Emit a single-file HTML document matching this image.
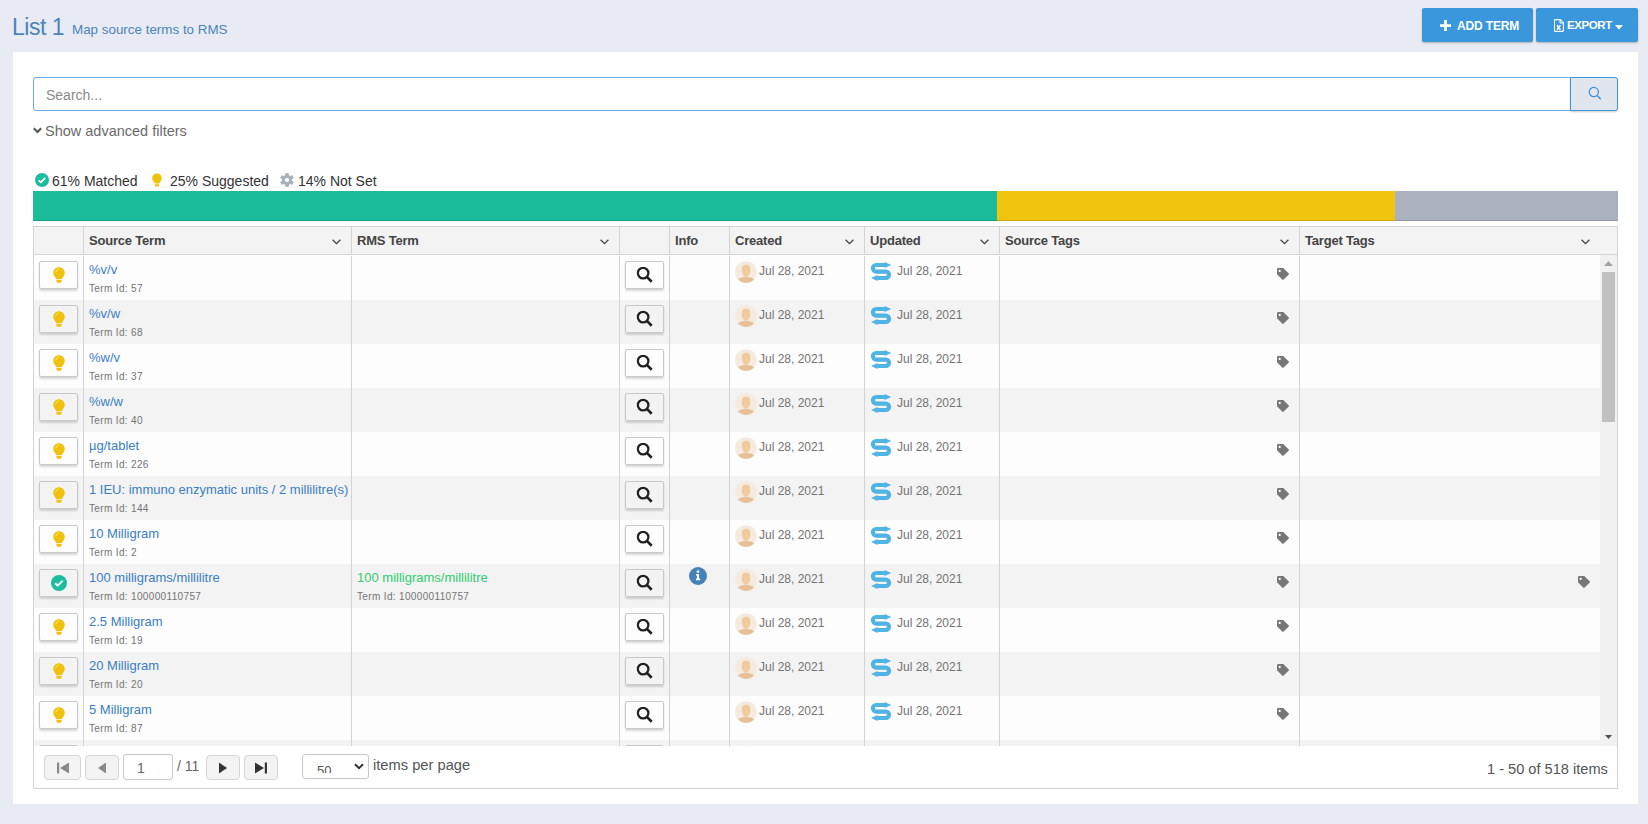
<!DOCTYPE html>
<html><head><meta charset="utf-8"><style>
*{box-sizing:border-box;margin:0;padding:0}
html,body{width:1648px;height:824px;overflow:hidden;background:#e8ebf3;font-family:"Liberation Sans",sans-serif;position:relative}
.abs{position:absolute}
.abs svg,.ic svg{display:block}
#title{position:absolute;left:12px;top:14px;letter-spacing:-0.5px;font-size:23px;color:#4d83bb;white-space:nowrap}
#subtitle{position:absolute;left:72px;top:22px;font-size:13.4px;color:#4d83bb;white-space:nowrap}
.tbtn{position:absolute;top:8px;height:34px;background:#3a97dc;border-radius:2px;box-shadow:0 1px 2px rgba(0,0,0,0.25);color:#fff;font-weight:bold;font-size:12px}
#panel{position:absolute;left:13px;top:52px;width:1625px;height:752px;background:#fff}
#search{position:absolute;left:33px;top:77px;width:1538px;height:34px;border:1px solid #6aaee6;border-radius:3px 0 0 3px;background:#fff}
#search span{position:absolute;left:12px;top:9px;font-size:14px;color:#8a8a8a}
#sbtn{position:absolute;left:1570px;top:77px;width:48px;height:34px;border:1px solid #3a97dc;border-radius:0 3px 3px 0;background:#e1e5ed;box-shadow:0 1px 2px rgba(0,0,0,0.2)}
#adv{position:absolute;left:45px;top:123px;font-size:14.5px;color:#6a6a6a;white-space:nowrap}
.stat{position:absolute;top:173px;font-size:14px;color:#333;white-space:nowrap}
#bar{position:absolute;left:33px;top:191px;height:30px;width:1585px}
#grid{position:absolute;left:33px;top:226px;width:1585px;height:563px;border:1px solid #d3d3d3;background:#fff}
#ghead{position:absolute;left:34px;top:227px;width:1583px;height:27px;background:#f3f3f3}
#hline{position:absolute;left:34px;top:254px;width:1583px;height:1px;background:#d3d3d3}
.hvd{position:absolute;top:227px;height:27px;width:1px;background:#d3d3d3}
.hl{position:absolute;top:233px;font-size:13px;letter-spacing:-0.2px;font-weight:bold;color:#444;white-space:nowrap}
#gbody{position:absolute;left:34px;top:255px;width:1566px;height:491px;overflow:hidden;background:#fff}
.row{position:absolute;left:-34px;width:1600px;height:44px}
.btn{position:absolute;top:5px;height:28px;border:1px solid #c8c8c8;border-radius:2px;box-shadow:0 2px 2px rgba(0,0,0,0.15)}
.btn .ic{position:absolute;left:50%;top:50%;transform:translate(-50%,-50%)}
.term{position:absolute;top:6px;font-size:13px;color:#3b7ec2;white-space:nowrap}
.term.green{color:#2ecc71}
.tid{position:absolute;top:27px;font-size:10px;letter-spacing:0.35px;color:#737373;white-space:nowrap}
.date{position:absolute;top:8px;font-size:12px;color:#737373;white-space:nowrap}
.vdiv{position:absolute;top:1px;height:490px;width:1px;background:#d3d3d3}
#sbar{position:absolute;left:1600px;top:255px;width:17px;height:491px;background:#f1f1f1}
#pager{position:absolute;left:34px;top:746px;width:1583px;height:42px;background:#fff}
.pb{position:absolute;top:755px;height:25px;border:1px solid #d5d5d5;border-radius:4px;background:#f3f3f3}
.pb svg{position:absolute;left:50%;top:50%;transform:translate(-50%,-50%)}
</style></head><body>
<div id="title">List 1</div>
<div id="subtitle">Map source terms to RMS</div>
<div class="tbtn" style="left:1422px;width:111px">
  <svg class="abs" style="left:18px;top:12px" width="11" height="11" viewBox="0 0 12 12"><path d="M4.5 0h3v4.5H12v3H7.5V12h-3V7.5H0v-3h4.5z" fill="#fff"/></svg>
  <span class="abs" style="left:35px;top:11px;letter-spacing:-0.15px">ADD TERM</span>
</div>
<div class="tbtn" style="left:1536px;width:102px">
  <svg class="abs" style="left:18px;top:11px" width="10" height="13" viewBox="0 0 10 13"><path d="M1 0.6h5.3l3.1 3.1v8.1c0 0.4-0.3 0.6-0.6 0.6H1c-0.4 0-0.6-0.3-0.6-0.6V1.2c0-0.4 0.3-0.6 0.6-0.6z" stroke="#fff" stroke-width="1.1" fill="none"/><path d="M6 0.8v3.2h3.2" stroke="#fff" stroke-width="1" fill="none"/><path d="M3 6.2l3.4 4.6M6.4 6.2L3 10.8" stroke="#fff" stroke-width="1.5"/></svg>
  <span class="abs" style="left:31px;top:11px;font-size:11.5px;letter-spacing:-0.4px">EXPORT</span>
  <svg class="abs" style="left:79px;top:17px" width="8" height="5" viewBox="0 0 8 5"><path d="M0 0h8L4 4.5z" fill="#fff"/></svg>
</div>
<div id="panel"></div>
<div id="search"><span>Search...</span></div>
<div id="sbtn"><svg class="abs" style="left:17px;top:8px" width="14" height="15" viewBox="0 0 14 15"><circle cx="5.8" cy="6" r="4.6" stroke="#3a8fd8" stroke-width="1.2" fill="none"/><path d="M9.1 9.4l3.6 3.8" stroke="#3a8fd8" stroke-width="1.3"/></svg></div>
<svg class="abs" style="left:33px;top:127px" width="9" height="7" viewBox="0 0 9 7"><path d="M0.8 1.2L4.5 5L8.2 1.2" stroke="#555" stroke-width="2" fill="none"/></svg>
<div id="adv">Show advanced filters</div>
<div class="abs" style="left:35px;top:173px"><svg width="14" height="14" viewBox="0 0 16 16"><circle cx="8" cy="8" r="8" fill="#1dbc9c"/><path d="M4.2 8.3l2.5 2.4 5-5" stroke="#fff" stroke-width="2" fill="none"/></svg></div>
<div class="stat" style="left:52px">61% Matched</div>
<div class="abs" style="left:152px;top:173px"><svg width="10" height="14" viewBox="0 0 12 16"><path d="M6 0.3C2.8 0.3 0.3 2.7 0.3 5.8c0 1.6 0.6 2.8 1.5 3.9 0.8 1 1.4 1.9 1.5 2.5h5.4c0.1-0.6 0.7-1.5 1.5-2.5 0.9-1.1 1.5-2.3 1.5-3.9C11.7 2.7 9.2 0.3 6 0.3z" fill="#f0c20c"/><path d="M3.4 13.1h5.2v1.4c0 0.7-0.6 1.2-1.2 1.2H4.6c-0.7 0-1.2-0.5-1.2-1.2z" fill="#f0c20c"/></svg></div>
<div class="stat" style="left:170px">25% Suggested</div>
<div class="abs" style="left:280px;top:173px"><svg width="14" height="14" viewBox="0 0 14 14"><g fill="#aab2bd"><circle cx="7" cy="7" r="5.2"/><rect x="5.3" y="0" width="3.4" height="14" rx="0.5"/><rect x="5.3" y="0" width="3.4" height="14" rx="0.5" transform="rotate(60 7 7)"/><rect x="5.3" y="0" width="3.4" height="14" rx="0.5" transform="rotate(120 7 7)"/></g><circle cx="7" cy="7" r="2.1" fill="#fff"/></svg></div>
<div class="stat" style="left:298px">14% Not Set</div>
<div id="bar"><div class="abs" style="left:0;top:0;width:964px;height:30px;background:#1abc9c;box-shadow:inset 0 -1px 0 rgba(0,0,0,0.15)"></div><div class="abs" style="left:964px;top:0;width:398px;height:30px;background:#f1c40f;box-shadow:inset 0 -1px 0 rgba(0,0,0,0.15)"></div><div class="abs" style="left:1362px;top:0;width:223px;height:30px;background:#aab2c0;box-shadow:inset 0 -1px 0 rgba(0,0,0,0.15)"></div></div>
<div id="grid"></div>
<div id="ghead"></div>
<div class="hvd" style="left:83px"></div><div class="hvd" style="left:351px"></div><div class="hvd" style="left:619px"></div><div class="hvd" style="left:669px"></div><div class="hvd" style="left:729px"></div><div class="hvd" style="left:864px"></div><div class="hvd" style="left:999px"></div><div class="hvd" style="left:1299px"></div>
<div id="hline"></div>
<div class="hl" style="left:89px">Source Term</div><div class="abs" style="left:332px;top:239px"><svg width="9" height="6" viewBox="0 0 9 6"><path d="M0.6 0.8L4.5 4.6L8.4 0.8" stroke="#444" stroke-width="1.3" fill="none"/></svg></div><div class="hl" style="left:357px">RMS Term</div><div class="abs" style="left:600px;top:239px"><svg width="9" height="6" viewBox="0 0 9 6"><path d="M0.6 0.8L4.5 4.6L8.4 0.8" stroke="#444" stroke-width="1.3" fill="none"/></svg></div><div class="hl" style="left:675px">Info</div><div class="hl" style="left:735px">Created</div><div class="abs" style="left:845px;top:239px"><svg width="9" height="6" viewBox="0 0 9 6"><path d="M0.6 0.8L4.5 4.6L8.4 0.8" stroke="#444" stroke-width="1.3" fill="none"/></svg></div><div class="hl" style="left:870px">Updated</div><div class="abs" style="left:980px;top:239px"><svg width="9" height="6" viewBox="0 0 9 6"><path d="M0.6 0.8L4.5 4.6L8.4 0.8" stroke="#444" stroke-width="1.3" fill="none"/></svg></div><div class="hl" style="left:1005px">Source Tags</div><div class="abs" style="left:1280px;top:239px"><svg width="9" height="6" viewBox="0 0 9 6"><path d="M0.6 0.8L4.5 4.6L8.4 0.8" stroke="#444" stroke-width="1.3" fill="none"/></svg></div><div class="hl" style="left:1305px">Target Tags</div><div class="abs" style="left:1581px;top:239px"><svg width="9" height="6" viewBox="0 0 9 6"><path d="M0.6 0.8L4.5 4.6L8.4 0.8" stroke="#444" stroke-width="1.3" fill="none"/></svg></div>
<div id="gbody">
<div class="row" style="top:1px;background:#fdfdfd">
<div class="btn" style="left:39px;width:39px"><span class="ic"><svg width="12" height="16" viewBox="0 0 12 16"><path d="M6 0.3C2.8 0.3 0.3 2.7 0.3 5.8c0 1.6 0.6 2.8 1.5 3.9 0.8 1 1.4 1.9 1.5 2.5h5.4c0.1-0.6 0.7-1.5 1.5-2.5 0.9-1.1 1.5-2.3 1.5-3.9C11.7 2.7 9.2 0.3 6 0.3z" fill="#f0c20c"/><path d="M3.4 13.1h5.2v1.4c0 0.7-0.6 1.2-1.2 1.2H4.6c-0.7 0-1.2-0.5-1.2-1.2z" fill="#f0c20c"/><path d="M2.9 5.2A3.2 3.2 0 0 1 5.8 2.3" stroke="#fff" stroke-width="0.8" fill="none" stroke-dasharray="1.2 0.6"/></svg></span></div>
<div class="term" style="left:89px">%v/v</div><div class="tid" style="left:89px">Term Id: 57</div>
<div class="btn" style="left:625px;width:39px"><span class="ic"><svg width="17" height="17" viewBox="0 0 17 17"><circle cx="6.6" cy="6.6" r="5.3" stroke="#222" stroke-width="2.3" fill="none"/><path d="M10.4 10.4l4.8 4.8" stroke="#222" stroke-width="2.7"/></svg></span></div>

<div class="abs" style="left:735px;top:5px"><svg width="22" height="22" viewBox="0 0 22 22"><circle cx="11" cy="11" r="10.8" fill="#f5ebe1"/><clipPath id="cp"><circle cx="11" cy="11" r="10.8"/></clipPath><g clip-path="url(#cp)"><path d="M6.8 7.4C6.8 4.9 8.5 3.4 11 3.4s4.2 1.5 4.2 4v2.6c0 1.9-0.7 3.4-1.9 4.3v1.3H8.7v-1.3C7.5 13.4 6.8 11.9 6.8 10z" fill="#f0cb9c"/><path d="M2.4 18.6c1.4-1.3 3.7-2 6.3-2.6h4.6c2.6 0.6 4.9 1.3 6.3 2.6V23H2.4z" fill="#e6c196"/></g></svg></div><div class="date" style="left:759px">Jul 28, 2021</div>
<div class="abs" style="left:870px;top:5px"><svg width="22" height="21" viewBox="0 0 22 21"><path d="M15 4H6.2A3.3 3.3 0 0 0 6.2 10.6H15.8A3.2 3.2 0 0 1 15.8 17H7.2" stroke="#4fb3e4" stroke-width="4.2" fill="none"/><path d="M14.6 0.9L21.3 4L14.6 7.1z" fill="#4fb3e4"/><path d="M7.6 13.9L1.1 17L7.6 20.1z" fill="#4fb3e4"/></svg></div><div class="date" style="left:897px">Jul 28, 2021</div>
<div class="abs" style="left:1277px;top:12px"><svg width="12" height="12" viewBox="0 0 12 12"><path d="M0 1.2Q0 0 1.2 0H6.3L11.8 5.5Q12.2 6 11.8 6.4L6.4 11.8Q6 12.2 5.5 11.8L0 6.3z" fill="#777"/><circle cx="2.7" cy="2.9" r="1.1" fill="#fff"/></svg></div>

</div><div class="row" style="top:45px;background:#f3f3f3">
<div class="btn" style="left:39px;width:39px"><span class="ic"><svg width="12" height="16" viewBox="0 0 12 16"><path d="M6 0.3C2.8 0.3 0.3 2.7 0.3 5.8c0 1.6 0.6 2.8 1.5 3.9 0.8 1 1.4 1.9 1.5 2.5h5.4c0.1-0.6 0.7-1.5 1.5-2.5 0.9-1.1 1.5-2.3 1.5-3.9C11.7 2.7 9.2 0.3 6 0.3z" fill="#f0c20c"/><path d="M3.4 13.1h5.2v1.4c0 0.7-0.6 1.2-1.2 1.2H4.6c-0.7 0-1.2-0.5-1.2-1.2z" fill="#f0c20c"/><path d="M2.9 5.2A3.2 3.2 0 0 1 5.8 2.3" stroke="#fff" stroke-width="0.8" fill="none" stroke-dasharray="1.2 0.6"/></svg></span></div>
<div class="term" style="left:89px">%v/w</div><div class="tid" style="left:89px">Term Id: 68</div>
<div class="btn" style="left:625px;width:39px"><span class="ic"><svg width="17" height="17" viewBox="0 0 17 17"><circle cx="6.6" cy="6.6" r="5.3" stroke="#222" stroke-width="2.3" fill="none"/><path d="M10.4 10.4l4.8 4.8" stroke="#222" stroke-width="2.7"/></svg></span></div>

<div class="abs" style="left:735px;top:5px"><svg width="22" height="22" viewBox="0 0 22 22"><circle cx="11" cy="11" r="10.8" fill="#f5ebe1"/><clipPath id="cp"><circle cx="11" cy="11" r="10.8"/></clipPath><g clip-path="url(#cp)"><path d="M6.8 7.4C6.8 4.9 8.5 3.4 11 3.4s4.2 1.5 4.2 4v2.6c0 1.9-0.7 3.4-1.9 4.3v1.3H8.7v-1.3C7.5 13.4 6.8 11.9 6.8 10z" fill="#f0cb9c"/><path d="M2.4 18.6c1.4-1.3 3.7-2 6.3-2.6h4.6c2.6 0.6 4.9 1.3 6.3 2.6V23H2.4z" fill="#e6c196"/></g></svg></div><div class="date" style="left:759px">Jul 28, 2021</div>
<div class="abs" style="left:870px;top:5px"><svg width="22" height="21" viewBox="0 0 22 21"><path d="M15 4H6.2A3.3 3.3 0 0 0 6.2 10.6H15.8A3.2 3.2 0 0 1 15.8 17H7.2" stroke="#4fb3e4" stroke-width="4.2" fill="none"/><path d="M14.6 0.9L21.3 4L14.6 7.1z" fill="#4fb3e4"/><path d="M7.6 13.9L1.1 17L7.6 20.1z" fill="#4fb3e4"/></svg></div><div class="date" style="left:897px">Jul 28, 2021</div>
<div class="abs" style="left:1277px;top:12px"><svg width="12" height="12" viewBox="0 0 12 12"><path d="M0 1.2Q0 0 1.2 0H6.3L11.8 5.5Q12.2 6 11.8 6.4L6.4 11.8Q6 12.2 5.5 11.8L0 6.3z" fill="#777"/><circle cx="2.7" cy="2.9" r="1.1" fill="#fff"/></svg></div>

</div><div class="row" style="top:89px;background:#fdfdfd">
<div class="btn" style="left:39px;width:39px"><span class="ic"><svg width="12" height="16" viewBox="0 0 12 16"><path d="M6 0.3C2.8 0.3 0.3 2.7 0.3 5.8c0 1.6 0.6 2.8 1.5 3.9 0.8 1 1.4 1.9 1.5 2.5h5.4c0.1-0.6 0.7-1.5 1.5-2.5 0.9-1.1 1.5-2.3 1.5-3.9C11.7 2.7 9.2 0.3 6 0.3z" fill="#f0c20c"/><path d="M3.4 13.1h5.2v1.4c0 0.7-0.6 1.2-1.2 1.2H4.6c-0.7 0-1.2-0.5-1.2-1.2z" fill="#f0c20c"/><path d="M2.9 5.2A3.2 3.2 0 0 1 5.8 2.3" stroke="#fff" stroke-width="0.8" fill="none" stroke-dasharray="1.2 0.6"/></svg></span></div>
<div class="term" style="left:89px">%w/v</div><div class="tid" style="left:89px">Term Id: 37</div>
<div class="btn" style="left:625px;width:39px"><span class="ic"><svg width="17" height="17" viewBox="0 0 17 17"><circle cx="6.6" cy="6.6" r="5.3" stroke="#222" stroke-width="2.3" fill="none"/><path d="M10.4 10.4l4.8 4.8" stroke="#222" stroke-width="2.7"/></svg></span></div>

<div class="abs" style="left:735px;top:5px"><svg width="22" height="22" viewBox="0 0 22 22"><circle cx="11" cy="11" r="10.8" fill="#f5ebe1"/><clipPath id="cp"><circle cx="11" cy="11" r="10.8"/></clipPath><g clip-path="url(#cp)"><path d="M6.8 7.4C6.8 4.9 8.5 3.4 11 3.4s4.2 1.5 4.2 4v2.6c0 1.9-0.7 3.4-1.9 4.3v1.3H8.7v-1.3C7.5 13.4 6.8 11.9 6.8 10z" fill="#f0cb9c"/><path d="M2.4 18.6c1.4-1.3 3.7-2 6.3-2.6h4.6c2.6 0.6 4.9 1.3 6.3 2.6V23H2.4z" fill="#e6c196"/></g></svg></div><div class="date" style="left:759px">Jul 28, 2021</div>
<div class="abs" style="left:870px;top:5px"><svg width="22" height="21" viewBox="0 0 22 21"><path d="M15 4H6.2A3.3 3.3 0 0 0 6.2 10.6H15.8A3.2 3.2 0 0 1 15.8 17H7.2" stroke="#4fb3e4" stroke-width="4.2" fill="none"/><path d="M14.6 0.9L21.3 4L14.6 7.1z" fill="#4fb3e4"/><path d="M7.6 13.9L1.1 17L7.6 20.1z" fill="#4fb3e4"/></svg></div><div class="date" style="left:897px">Jul 28, 2021</div>
<div class="abs" style="left:1277px;top:12px"><svg width="12" height="12" viewBox="0 0 12 12"><path d="M0 1.2Q0 0 1.2 0H6.3L11.8 5.5Q12.2 6 11.8 6.4L6.4 11.8Q6 12.2 5.5 11.8L0 6.3z" fill="#777"/><circle cx="2.7" cy="2.9" r="1.1" fill="#fff"/></svg></div>

</div><div class="row" style="top:133px;background:#f3f3f3">
<div class="btn" style="left:39px;width:39px"><span class="ic"><svg width="12" height="16" viewBox="0 0 12 16"><path d="M6 0.3C2.8 0.3 0.3 2.7 0.3 5.8c0 1.6 0.6 2.8 1.5 3.9 0.8 1 1.4 1.9 1.5 2.5h5.4c0.1-0.6 0.7-1.5 1.5-2.5 0.9-1.1 1.5-2.3 1.5-3.9C11.7 2.7 9.2 0.3 6 0.3z" fill="#f0c20c"/><path d="M3.4 13.1h5.2v1.4c0 0.7-0.6 1.2-1.2 1.2H4.6c-0.7 0-1.2-0.5-1.2-1.2z" fill="#f0c20c"/><path d="M2.9 5.2A3.2 3.2 0 0 1 5.8 2.3" stroke="#fff" stroke-width="0.8" fill="none" stroke-dasharray="1.2 0.6"/></svg></span></div>
<div class="term" style="left:89px">%w/w</div><div class="tid" style="left:89px">Term Id: 40</div>
<div class="btn" style="left:625px;width:39px"><span class="ic"><svg width="17" height="17" viewBox="0 0 17 17"><circle cx="6.6" cy="6.6" r="5.3" stroke="#222" stroke-width="2.3" fill="none"/><path d="M10.4 10.4l4.8 4.8" stroke="#222" stroke-width="2.7"/></svg></span></div>

<div class="abs" style="left:735px;top:5px"><svg width="22" height="22" viewBox="0 0 22 22"><circle cx="11" cy="11" r="10.8" fill="#f5ebe1"/><clipPath id="cp"><circle cx="11" cy="11" r="10.8"/></clipPath><g clip-path="url(#cp)"><path d="M6.8 7.4C6.8 4.9 8.5 3.4 11 3.4s4.2 1.5 4.2 4v2.6c0 1.9-0.7 3.4-1.9 4.3v1.3H8.7v-1.3C7.5 13.4 6.8 11.9 6.8 10z" fill="#f0cb9c"/><path d="M2.4 18.6c1.4-1.3 3.7-2 6.3-2.6h4.6c2.6 0.6 4.9 1.3 6.3 2.6V23H2.4z" fill="#e6c196"/></g></svg></div><div class="date" style="left:759px">Jul 28, 2021</div>
<div class="abs" style="left:870px;top:5px"><svg width="22" height="21" viewBox="0 0 22 21"><path d="M15 4H6.2A3.3 3.3 0 0 0 6.2 10.6H15.8A3.2 3.2 0 0 1 15.8 17H7.2" stroke="#4fb3e4" stroke-width="4.2" fill="none"/><path d="M14.6 0.9L21.3 4L14.6 7.1z" fill="#4fb3e4"/><path d="M7.6 13.9L1.1 17L7.6 20.1z" fill="#4fb3e4"/></svg></div><div class="date" style="left:897px">Jul 28, 2021</div>
<div class="abs" style="left:1277px;top:12px"><svg width="12" height="12" viewBox="0 0 12 12"><path d="M0 1.2Q0 0 1.2 0H6.3L11.8 5.5Q12.2 6 11.8 6.4L6.4 11.8Q6 12.2 5.5 11.8L0 6.3z" fill="#777"/><circle cx="2.7" cy="2.9" r="1.1" fill="#fff"/></svg></div>

</div><div class="row" style="top:177px;background:#fdfdfd">
<div class="btn" style="left:39px;width:39px"><span class="ic"><svg width="12" height="16" viewBox="0 0 12 16"><path d="M6 0.3C2.8 0.3 0.3 2.7 0.3 5.8c0 1.6 0.6 2.8 1.5 3.9 0.8 1 1.4 1.9 1.5 2.5h5.4c0.1-0.6 0.7-1.5 1.5-2.5 0.9-1.1 1.5-2.3 1.5-3.9C11.7 2.7 9.2 0.3 6 0.3z" fill="#f0c20c"/><path d="M3.4 13.1h5.2v1.4c0 0.7-0.6 1.2-1.2 1.2H4.6c-0.7 0-1.2-0.5-1.2-1.2z" fill="#f0c20c"/><path d="M2.9 5.2A3.2 3.2 0 0 1 5.8 2.3" stroke="#fff" stroke-width="0.8" fill="none" stroke-dasharray="1.2 0.6"/></svg></span></div>
<div class="term" style="left:89px">µg/tablet</div><div class="tid" style="left:89px">Term Id: 226</div>
<div class="btn" style="left:625px;width:39px"><span class="ic"><svg width="17" height="17" viewBox="0 0 17 17"><circle cx="6.6" cy="6.6" r="5.3" stroke="#222" stroke-width="2.3" fill="none"/><path d="M10.4 10.4l4.8 4.8" stroke="#222" stroke-width="2.7"/></svg></span></div>

<div class="abs" style="left:735px;top:5px"><svg width="22" height="22" viewBox="0 0 22 22"><circle cx="11" cy="11" r="10.8" fill="#f5ebe1"/><clipPath id="cp"><circle cx="11" cy="11" r="10.8"/></clipPath><g clip-path="url(#cp)"><path d="M6.8 7.4C6.8 4.9 8.5 3.4 11 3.4s4.2 1.5 4.2 4v2.6c0 1.9-0.7 3.4-1.9 4.3v1.3H8.7v-1.3C7.5 13.4 6.8 11.9 6.8 10z" fill="#f0cb9c"/><path d="M2.4 18.6c1.4-1.3 3.7-2 6.3-2.6h4.6c2.6 0.6 4.9 1.3 6.3 2.6V23H2.4z" fill="#e6c196"/></g></svg></div><div class="date" style="left:759px">Jul 28, 2021</div>
<div class="abs" style="left:870px;top:5px"><svg width="22" height="21" viewBox="0 0 22 21"><path d="M15 4H6.2A3.3 3.3 0 0 0 6.2 10.6H15.8A3.2 3.2 0 0 1 15.8 17H7.2" stroke="#4fb3e4" stroke-width="4.2" fill="none"/><path d="M14.6 0.9L21.3 4L14.6 7.1z" fill="#4fb3e4"/><path d="M7.6 13.9L1.1 17L7.6 20.1z" fill="#4fb3e4"/></svg></div><div class="date" style="left:897px">Jul 28, 2021</div>
<div class="abs" style="left:1277px;top:12px"><svg width="12" height="12" viewBox="0 0 12 12"><path d="M0 1.2Q0 0 1.2 0H6.3L11.8 5.5Q12.2 6 11.8 6.4L6.4 11.8Q6 12.2 5.5 11.8L0 6.3z" fill="#777"/><circle cx="2.7" cy="2.9" r="1.1" fill="#fff"/></svg></div>

</div><div class="row" style="top:221px;background:#f3f3f3">
<div class="btn" style="left:39px;width:39px"><span class="ic"><svg width="12" height="16" viewBox="0 0 12 16"><path d="M6 0.3C2.8 0.3 0.3 2.7 0.3 5.8c0 1.6 0.6 2.8 1.5 3.9 0.8 1 1.4 1.9 1.5 2.5h5.4c0.1-0.6 0.7-1.5 1.5-2.5 0.9-1.1 1.5-2.3 1.5-3.9C11.7 2.7 9.2 0.3 6 0.3z" fill="#f0c20c"/><path d="M3.4 13.1h5.2v1.4c0 0.7-0.6 1.2-1.2 1.2H4.6c-0.7 0-1.2-0.5-1.2-1.2z" fill="#f0c20c"/><path d="M2.9 5.2A3.2 3.2 0 0 1 5.8 2.3" stroke="#fff" stroke-width="0.8" fill="none" stroke-dasharray="1.2 0.6"/></svg></span></div>
<div class="term" style="left:89px">1 IEU: immuno enzymatic units / 2 millilitre(s)</div><div class="tid" style="left:89px">Term Id: 144</div>
<div class="btn" style="left:625px;width:39px"><span class="ic"><svg width="17" height="17" viewBox="0 0 17 17"><circle cx="6.6" cy="6.6" r="5.3" stroke="#222" stroke-width="2.3" fill="none"/><path d="M10.4 10.4l4.8 4.8" stroke="#222" stroke-width="2.7"/></svg></span></div>

<div class="abs" style="left:735px;top:5px"><svg width="22" height="22" viewBox="0 0 22 22"><circle cx="11" cy="11" r="10.8" fill="#f5ebe1"/><clipPath id="cp"><circle cx="11" cy="11" r="10.8"/></clipPath><g clip-path="url(#cp)"><path d="M6.8 7.4C6.8 4.9 8.5 3.4 11 3.4s4.2 1.5 4.2 4v2.6c0 1.9-0.7 3.4-1.9 4.3v1.3H8.7v-1.3C7.5 13.4 6.8 11.9 6.8 10z" fill="#f0cb9c"/><path d="M2.4 18.6c1.4-1.3 3.7-2 6.3-2.6h4.6c2.6 0.6 4.9 1.3 6.3 2.6V23H2.4z" fill="#e6c196"/></g></svg></div><div class="date" style="left:759px">Jul 28, 2021</div>
<div class="abs" style="left:870px;top:5px"><svg width="22" height="21" viewBox="0 0 22 21"><path d="M15 4H6.2A3.3 3.3 0 0 0 6.2 10.6H15.8A3.2 3.2 0 0 1 15.8 17H7.2" stroke="#4fb3e4" stroke-width="4.2" fill="none"/><path d="M14.6 0.9L21.3 4L14.6 7.1z" fill="#4fb3e4"/><path d="M7.6 13.9L1.1 17L7.6 20.1z" fill="#4fb3e4"/></svg></div><div class="date" style="left:897px">Jul 28, 2021</div>
<div class="abs" style="left:1277px;top:12px"><svg width="12" height="12" viewBox="0 0 12 12"><path d="M0 1.2Q0 0 1.2 0H6.3L11.8 5.5Q12.2 6 11.8 6.4L6.4 11.8Q6 12.2 5.5 11.8L0 6.3z" fill="#777"/><circle cx="2.7" cy="2.9" r="1.1" fill="#fff"/></svg></div>

</div><div class="row" style="top:265px;background:#fdfdfd">
<div class="btn" style="left:39px;width:39px"><span class="ic"><svg width="12" height="16" viewBox="0 0 12 16"><path d="M6 0.3C2.8 0.3 0.3 2.7 0.3 5.8c0 1.6 0.6 2.8 1.5 3.9 0.8 1 1.4 1.9 1.5 2.5h5.4c0.1-0.6 0.7-1.5 1.5-2.5 0.9-1.1 1.5-2.3 1.5-3.9C11.7 2.7 9.2 0.3 6 0.3z" fill="#f0c20c"/><path d="M3.4 13.1h5.2v1.4c0 0.7-0.6 1.2-1.2 1.2H4.6c-0.7 0-1.2-0.5-1.2-1.2z" fill="#f0c20c"/><path d="M2.9 5.2A3.2 3.2 0 0 1 5.8 2.3" stroke="#fff" stroke-width="0.8" fill="none" stroke-dasharray="1.2 0.6"/></svg></span></div>
<div class="term" style="left:89px">10 Milligram</div><div class="tid" style="left:89px">Term Id: 2</div>
<div class="btn" style="left:625px;width:39px"><span class="ic"><svg width="17" height="17" viewBox="0 0 17 17"><circle cx="6.6" cy="6.6" r="5.3" stroke="#222" stroke-width="2.3" fill="none"/><path d="M10.4 10.4l4.8 4.8" stroke="#222" stroke-width="2.7"/></svg></span></div>

<div class="abs" style="left:735px;top:5px"><svg width="22" height="22" viewBox="0 0 22 22"><circle cx="11" cy="11" r="10.8" fill="#f5ebe1"/><clipPath id="cp"><circle cx="11" cy="11" r="10.8"/></clipPath><g clip-path="url(#cp)"><path d="M6.8 7.4C6.8 4.9 8.5 3.4 11 3.4s4.2 1.5 4.2 4v2.6c0 1.9-0.7 3.4-1.9 4.3v1.3H8.7v-1.3C7.5 13.4 6.8 11.9 6.8 10z" fill="#f0cb9c"/><path d="M2.4 18.6c1.4-1.3 3.7-2 6.3-2.6h4.6c2.6 0.6 4.9 1.3 6.3 2.6V23H2.4z" fill="#e6c196"/></g></svg></div><div class="date" style="left:759px">Jul 28, 2021</div>
<div class="abs" style="left:870px;top:5px"><svg width="22" height="21" viewBox="0 0 22 21"><path d="M15 4H6.2A3.3 3.3 0 0 0 6.2 10.6H15.8A3.2 3.2 0 0 1 15.8 17H7.2" stroke="#4fb3e4" stroke-width="4.2" fill="none"/><path d="M14.6 0.9L21.3 4L14.6 7.1z" fill="#4fb3e4"/><path d="M7.6 13.9L1.1 17L7.6 20.1z" fill="#4fb3e4"/></svg></div><div class="date" style="left:897px">Jul 28, 2021</div>
<div class="abs" style="left:1277px;top:12px"><svg width="12" height="12" viewBox="0 0 12 12"><path d="M0 1.2Q0 0 1.2 0H6.3L11.8 5.5Q12.2 6 11.8 6.4L6.4 11.8Q6 12.2 5.5 11.8L0 6.3z" fill="#777"/><circle cx="2.7" cy="2.9" r="1.1" fill="#fff"/></svg></div>

</div><div class="row" style="top:309px;background:#f3f3f3">
<div class="btn" style="left:39px;width:39px"><span class="ic"><svg width="16" height="16" viewBox="0 0 16 16"><circle cx="8" cy="8" r="8" fill="#1dbc9c"/><path d="M4.2 8.3l2.5 2.4 5-5" stroke="#fff" stroke-width="1.9" fill="none"/></svg></span></div>
<div class="term" style="left:89px">100 milligrams/millilitre</div><div class="tid" style="left:89px">Term Id: 100000110757</div><div class="term green" style="left:357px">100 milligrams/millilitre</div><div class="tid" style="left:357px">Term Id: 100000110757</div>
<div class="btn" style="left:625px;width:39px"><span class="ic"><svg width="17" height="17" viewBox="0 0 17 17"><circle cx="6.6" cy="6.6" r="5.3" stroke="#222" stroke-width="2.3" fill="none"/><path d="M10.4 10.4l4.8 4.8" stroke="#222" stroke-width="2.7"/></svg></span></div>
<div class="abs" style="left:689px;top:2.5px"><svg width="18" height="18" viewBox="0 0 18 18"><circle cx="9" cy="9" r="9" fill="#4682b9"/><circle cx="9" cy="4.6" r="1.3" fill="#fff"/><path d="M7 7h3v4.6h1.1v1.6H7v-1.6h1v-3H7z" fill="#fff"/></svg></div>
<div class="abs" style="left:735px;top:5px"><svg width="22" height="22" viewBox="0 0 22 22"><circle cx="11" cy="11" r="10.8" fill="#f5ebe1"/><clipPath id="cp"><circle cx="11" cy="11" r="10.8"/></clipPath><g clip-path="url(#cp)"><path d="M6.8 7.4C6.8 4.9 8.5 3.4 11 3.4s4.2 1.5 4.2 4v2.6c0 1.9-0.7 3.4-1.9 4.3v1.3H8.7v-1.3C7.5 13.4 6.8 11.9 6.8 10z" fill="#f0cb9c"/><path d="M2.4 18.6c1.4-1.3 3.7-2 6.3-2.6h4.6c2.6 0.6 4.9 1.3 6.3 2.6V23H2.4z" fill="#e6c196"/></g></svg></div><div class="date" style="left:759px">Jul 28, 2021</div>
<div class="abs" style="left:870px;top:5px"><svg width="22" height="21" viewBox="0 0 22 21"><path d="M15 4H6.2A3.3 3.3 0 0 0 6.2 10.6H15.8A3.2 3.2 0 0 1 15.8 17H7.2" stroke="#4fb3e4" stroke-width="4.2" fill="none"/><path d="M14.6 0.9L21.3 4L14.6 7.1z" fill="#4fb3e4"/><path d="M7.6 13.9L1.1 17L7.6 20.1z" fill="#4fb3e4"/></svg></div><div class="date" style="left:897px">Jul 28, 2021</div>
<div class="abs" style="left:1277px;top:12px"><svg width="12" height="12" viewBox="0 0 12 12"><path d="M0 1.2Q0 0 1.2 0H6.3L11.8 5.5Q12.2 6 11.8 6.4L6.4 11.8Q6 12.2 5.5 11.8L0 6.3z" fill="#777"/><circle cx="2.7" cy="2.9" r="1.1" fill="#fff"/></svg></div>
<div class="abs" style="left:1578px;top:12px"><svg width="12" height="12" viewBox="0 0 12 12"><path d="M0 1.2Q0 0 1.2 0H6.3L11.8 5.5Q12.2 6 11.8 6.4L6.4 11.8Q6 12.2 5.5 11.8L0 6.3z" fill="#777"/><circle cx="2.7" cy="2.9" r="1.1" fill="#fff"/></svg></div>
</div><div class="row" style="top:353px;background:#fdfdfd">
<div class="btn" style="left:39px;width:39px"><span class="ic"><svg width="12" height="16" viewBox="0 0 12 16"><path d="M6 0.3C2.8 0.3 0.3 2.7 0.3 5.8c0 1.6 0.6 2.8 1.5 3.9 0.8 1 1.4 1.9 1.5 2.5h5.4c0.1-0.6 0.7-1.5 1.5-2.5 0.9-1.1 1.5-2.3 1.5-3.9C11.7 2.7 9.2 0.3 6 0.3z" fill="#f0c20c"/><path d="M3.4 13.1h5.2v1.4c0 0.7-0.6 1.2-1.2 1.2H4.6c-0.7 0-1.2-0.5-1.2-1.2z" fill="#f0c20c"/><path d="M2.9 5.2A3.2 3.2 0 0 1 5.8 2.3" stroke="#fff" stroke-width="0.8" fill="none" stroke-dasharray="1.2 0.6"/></svg></span></div>
<div class="term" style="left:89px">2.5 Milligram</div><div class="tid" style="left:89px">Term Id: 19</div>
<div class="btn" style="left:625px;width:39px"><span class="ic"><svg width="17" height="17" viewBox="0 0 17 17"><circle cx="6.6" cy="6.6" r="5.3" stroke="#222" stroke-width="2.3" fill="none"/><path d="M10.4 10.4l4.8 4.8" stroke="#222" stroke-width="2.7"/></svg></span></div>

<div class="abs" style="left:735px;top:5px"><svg width="22" height="22" viewBox="0 0 22 22"><circle cx="11" cy="11" r="10.8" fill="#f5ebe1"/><clipPath id="cp"><circle cx="11" cy="11" r="10.8"/></clipPath><g clip-path="url(#cp)"><path d="M6.8 7.4C6.8 4.9 8.5 3.4 11 3.4s4.2 1.5 4.2 4v2.6c0 1.9-0.7 3.4-1.9 4.3v1.3H8.7v-1.3C7.5 13.4 6.8 11.9 6.8 10z" fill="#f0cb9c"/><path d="M2.4 18.6c1.4-1.3 3.7-2 6.3-2.6h4.6c2.6 0.6 4.9 1.3 6.3 2.6V23H2.4z" fill="#e6c196"/></g></svg></div><div class="date" style="left:759px">Jul 28, 2021</div>
<div class="abs" style="left:870px;top:5px"><svg width="22" height="21" viewBox="0 0 22 21"><path d="M15 4H6.2A3.3 3.3 0 0 0 6.2 10.6H15.8A3.2 3.2 0 0 1 15.8 17H7.2" stroke="#4fb3e4" stroke-width="4.2" fill="none"/><path d="M14.6 0.9L21.3 4L14.6 7.1z" fill="#4fb3e4"/><path d="M7.6 13.9L1.1 17L7.6 20.1z" fill="#4fb3e4"/></svg></div><div class="date" style="left:897px">Jul 28, 2021</div>
<div class="abs" style="left:1277px;top:12px"><svg width="12" height="12" viewBox="0 0 12 12"><path d="M0 1.2Q0 0 1.2 0H6.3L11.8 5.5Q12.2 6 11.8 6.4L6.4 11.8Q6 12.2 5.5 11.8L0 6.3z" fill="#777"/><circle cx="2.7" cy="2.9" r="1.1" fill="#fff"/></svg></div>

</div><div class="row" style="top:397px;background:#f3f3f3">
<div class="btn" style="left:39px;width:39px"><span class="ic"><svg width="12" height="16" viewBox="0 0 12 16"><path d="M6 0.3C2.8 0.3 0.3 2.7 0.3 5.8c0 1.6 0.6 2.8 1.5 3.9 0.8 1 1.4 1.9 1.5 2.5h5.4c0.1-0.6 0.7-1.5 1.5-2.5 0.9-1.1 1.5-2.3 1.5-3.9C11.7 2.7 9.2 0.3 6 0.3z" fill="#f0c20c"/><path d="M3.4 13.1h5.2v1.4c0 0.7-0.6 1.2-1.2 1.2H4.6c-0.7 0-1.2-0.5-1.2-1.2z" fill="#f0c20c"/><path d="M2.9 5.2A3.2 3.2 0 0 1 5.8 2.3" stroke="#fff" stroke-width="0.8" fill="none" stroke-dasharray="1.2 0.6"/></svg></span></div>
<div class="term" style="left:89px">20 Milligram</div><div class="tid" style="left:89px">Term Id: 20</div>
<div class="btn" style="left:625px;width:39px"><span class="ic"><svg width="17" height="17" viewBox="0 0 17 17"><circle cx="6.6" cy="6.6" r="5.3" stroke="#222" stroke-width="2.3" fill="none"/><path d="M10.4 10.4l4.8 4.8" stroke="#222" stroke-width="2.7"/></svg></span></div>

<div class="abs" style="left:735px;top:5px"><svg width="22" height="22" viewBox="0 0 22 22"><circle cx="11" cy="11" r="10.8" fill="#f5ebe1"/><clipPath id="cp"><circle cx="11" cy="11" r="10.8"/></clipPath><g clip-path="url(#cp)"><path d="M6.8 7.4C6.8 4.9 8.5 3.4 11 3.4s4.2 1.5 4.2 4v2.6c0 1.9-0.7 3.4-1.9 4.3v1.3H8.7v-1.3C7.5 13.4 6.8 11.9 6.8 10z" fill="#f0cb9c"/><path d="M2.4 18.6c1.4-1.3 3.7-2 6.3-2.6h4.6c2.6 0.6 4.9 1.3 6.3 2.6V23H2.4z" fill="#e6c196"/></g></svg></div><div class="date" style="left:759px">Jul 28, 2021</div>
<div class="abs" style="left:870px;top:5px"><svg width="22" height="21" viewBox="0 0 22 21"><path d="M15 4H6.2A3.3 3.3 0 0 0 6.2 10.6H15.8A3.2 3.2 0 0 1 15.8 17H7.2" stroke="#4fb3e4" stroke-width="4.2" fill="none"/><path d="M14.6 0.9L21.3 4L14.6 7.1z" fill="#4fb3e4"/><path d="M7.6 13.9L1.1 17L7.6 20.1z" fill="#4fb3e4"/></svg></div><div class="date" style="left:897px">Jul 28, 2021</div>
<div class="abs" style="left:1277px;top:12px"><svg width="12" height="12" viewBox="0 0 12 12"><path d="M0 1.2Q0 0 1.2 0H6.3L11.8 5.5Q12.2 6 11.8 6.4L6.4 11.8Q6 12.2 5.5 11.8L0 6.3z" fill="#777"/><circle cx="2.7" cy="2.9" r="1.1" fill="#fff"/></svg></div>

</div><div class="row" style="top:441px;background:#fdfdfd">
<div class="btn" style="left:39px;width:39px"><span class="ic"><svg width="12" height="16" viewBox="0 0 12 16"><path d="M6 0.3C2.8 0.3 0.3 2.7 0.3 5.8c0 1.6 0.6 2.8 1.5 3.9 0.8 1 1.4 1.9 1.5 2.5h5.4c0.1-0.6 0.7-1.5 1.5-2.5 0.9-1.1 1.5-2.3 1.5-3.9C11.7 2.7 9.2 0.3 6 0.3z" fill="#f0c20c"/><path d="M3.4 13.1h5.2v1.4c0 0.7-0.6 1.2-1.2 1.2H4.6c-0.7 0-1.2-0.5-1.2-1.2z" fill="#f0c20c"/><path d="M2.9 5.2A3.2 3.2 0 0 1 5.8 2.3" stroke="#fff" stroke-width="0.8" fill="none" stroke-dasharray="1.2 0.6"/></svg></span></div>
<div class="term" style="left:89px">5 Milligram</div><div class="tid" style="left:89px">Term Id: 87</div>
<div class="btn" style="left:625px;width:39px"><span class="ic"><svg width="17" height="17" viewBox="0 0 17 17"><circle cx="6.6" cy="6.6" r="5.3" stroke="#222" stroke-width="2.3" fill="none"/><path d="M10.4 10.4l4.8 4.8" stroke="#222" stroke-width="2.7"/></svg></span></div>

<div class="abs" style="left:735px;top:5px"><svg width="22" height="22" viewBox="0 0 22 22"><circle cx="11" cy="11" r="10.8" fill="#f5ebe1"/><clipPath id="cp"><circle cx="11" cy="11" r="10.8"/></clipPath><g clip-path="url(#cp)"><path d="M6.8 7.4C6.8 4.9 8.5 3.4 11 3.4s4.2 1.5 4.2 4v2.6c0 1.9-0.7 3.4-1.9 4.3v1.3H8.7v-1.3C7.5 13.4 6.8 11.9 6.8 10z" fill="#f0cb9c"/><path d="M2.4 18.6c1.4-1.3 3.7-2 6.3-2.6h4.6c2.6 0.6 4.9 1.3 6.3 2.6V23H2.4z" fill="#e6c196"/></g></svg></div><div class="date" style="left:759px">Jul 28, 2021</div>
<div class="abs" style="left:870px;top:5px"><svg width="22" height="21" viewBox="0 0 22 21"><path d="M15 4H6.2A3.3 3.3 0 0 0 6.2 10.6H15.8A3.2 3.2 0 0 1 15.8 17H7.2" stroke="#4fb3e4" stroke-width="4.2" fill="none"/><path d="M14.6 0.9L21.3 4L14.6 7.1z" fill="#4fb3e4"/><path d="M7.6 13.9L1.1 17L7.6 20.1z" fill="#4fb3e4"/></svg></div><div class="date" style="left:897px">Jul 28, 2021</div>
<div class="abs" style="left:1277px;top:12px"><svg width="12" height="12" viewBox="0 0 12 12"><path d="M0 1.2Q0 0 1.2 0H6.3L11.8 5.5Q12.2 6 11.8 6.4L6.4 11.8Q6 12.2 5.5 11.8L0 6.3z" fill="#777"/><circle cx="2.7" cy="2.9" r="1.1" fill="#fff"/></svg></div>

</div><div class="row" style="top:485px;background:#f3f3f3">
<div class="btn" style="left:39px;width:39px"><span class="ic"><svg width="12" height="16" viewBox="0 0 12 16"><path d="M6 0.3C2.8 0.3 0.3 2.7 0.3 5.8c0 1.6 0.6 2.8 1.5 3.9 0.8 1 1.4 1.9 1.5 2.5h5.4c0.1-0.6 0.7-1.5 1.5-2.5 0.9-1.1 1.5-2.3 1.5-3.9C11.7 2.7 9.2 0.3 6 0.3z" fill="#f0c20c"/><path d="M3.4 13.1h5.2v1.4c0 0.7-0.6 1.2-1.2 1.2H4.6c-0.7 0-1.2-0.5-1.2-1.2z" fill="#f0c20c"/><path d="M2.9 5.2A3.2 3.2 0 0 1 5.8 2.3" stroke="#fff" stroke-width="0.8" fill="none" stroke-dasharray="1.2 0.6"/></svg></span></div>

<div class="btn" style="left:625px;width:39px"><span class="ic"><svg width="17" height="17" viewBox="0 0 17 17"><circle cx="6.6" cy="6.6" r="5.3" stroke="#222" stroke-width="2.3" fill="none"/><path d="M10.4 10.4l4.8 4.8" stroke="#222" stroke-width="2.7"/></svg></span></div>

<div class="abs" style="left:735px;top:5px"><svg width="22" height="22" viewBox="0 0 22 22"><circle cx="11" cy="11" r="10.8" fill="#f5ebe1"/><clipPath id="cp"><circle cx="11" cy="11" r="10.8"/></clipPath><g clip-path="url(#cp)"><path d="M6.8 7.4C6.8 4.9 8.5 3.4 11 3.4s4.2 1.5 4.2 4v2.6c0 1.9-0.7 3.4-1.9 4.3v1.3H8.7v-1.3C7.5 13.4 6.8 11.9 6.8 10z" fill="#f0cb9c"/><path d="M2.4 18.6c1.4-1.3 3.7-2 6.3-2.6h4.6c2.6 0.6 4.9 1.3 6.3 2.6V23H2.4z" fill="#e6c196"/></g></svg></div><div class="date" style="left:759px">Jul 28, 2021</div>
<div class="abs" style="left:870px;top:5px"><svg width="22" height="21" viewBox="0 0 22 21"><path d="M15 4H6.2A3.3 3.3 0 0 0 6.2 10.6H15.8A3.2 3.2 0 0 1 15.8 17H7.2" stroke="#4fb3e4" stroke-width="4.2" fill="none"/><path d="M14.6 0.9L21.3 4L14.6 7.1z" fill="#4fb3e4"/><path d="M7.6 13.9L1.1 17L7.6 20.1z" fill="#4fb3e4"/></svg></div><div class="date" style="left:897px">Jul 28, 2021</div>
<div class="abs" style="left:1277px;top:12px"><svg width="12" height="12" viewBox="0 0 12 12"><path d="M0 1.2Q0 0 1.2 0H6.3L11.8 5.5Q12.2 6 11.8 6.4L6.4 11.8Q6 12.2 5.5 11.8L0 6.3z" fill="#777"/><circle cx="2.7" cy="2.9" r="1.1" fill="#fff"/></svg></div>

</div>
<div style="position:absolute;left:-34px;top:0;width:1600px;height:491px"><div class="vdiv" style="left:83px"></div><div class="vdiv" style="left:351px"></div><div class="vdiv" style="left:619px"></div><div class="vdiv" style="left:669px"></div><div class="vdiv" style="left:729px"></div><div class="vdiv" style="left:864px"></div><div class="vdiv" style="left:999px"></div><div class="vdiv" style="left:1299px"></div></div>
</div>
<div id="sbar">
  <svg class="abs" style="left:4px;top:6px" width="9" height="5" viewBox="0 0 9 5"><path d="M0 5L4.5 0L9 5z" fill="#a3a3a3"/></svg>
  <div class="abs" style="left:2px;top:17px;width:13px;height:150px;background:#c1c1c1"></div>
  <svg class="abs" style="left:5px;top:480px" width="7" height="4" viewBox="0 0 7 4"><path d="M0 0L7 0L3.5 4z" fill="#505050"/></svg>
</div>
<div id="pager"></div>
<div class="pb" style="left:44px;width:37px"><svg width="12" height="12" viewBox="0 0 12 12"><rect x="0" y="0.5" width="2.2" height="11" fill="#8a8a8a"/><path d="M3 6L12 0.5V11.5z" fill="#8a8a8a"/></svg></div>
<div class="pb" style="left:85px;width:34px"><svg width="8" height="11" viewBox="0 0 8 11"><path d="M0 5.5L8 0V11z" fill="#8a8a8a"/></svg></div>
<div class="abs" style="left:123px;top:754px;width:50px;height:26px;border:1px solid #c8c8c8;border-radius:3px;background:#fff"><span class="abs" style="left:13px;top:5px;font-size:14px;color:#666">1</span></div>
<div class="abs" style="left:177px;top:758px;font-size:14px;color:#666">/ 11</div>
<div class="pb" style="left:206px;width:34px"><svg width="8" height="11" viewBox="0 0 8 11"><path d="M8 5.5L0 0V11z" fill="#333"/></svg></div>
<div class="pb" style="left:244px;width:34px"><svg width="12" height="12" viewBox="0 0 12 12"><rect x="9.8" y="0.5" width="2.2" height="11" fill="#333"/><path d="M9 6L0 0.5V11.5z" fill="#333"/></svg></div>
<div class="abs" style="left:302px;top:754px;width:67px;height:25px;border:1px solid #c8c8c8;border-radius:3px;background:#fff;overflow:hidden"><div class="abs" style="left:0;top:0;width:50px;height:18px;overflow:hidden"><span class="abs" style="left:14px;top:8px;font-size:13px;color:#555">50</span></div><svg class="abs" style="left:51px;top:8px" width="10" height="7" viewBox="0 0 10 7"><path d="M1 1.2L5 5.2L9 1.2" stroke="#333" stroke-width="2" fill="none"/></svg></div>
<div class="abs" style="left:373px;top:757px;font-size:14.7px;color:#555;white-space:nowrap">items per page</div>
<div class="abs" style="left:1487px;top:761px;font-size:14.6px;color:#555;white-space:nowrap">1 - 50 of 518 items</div>
</body></html>
